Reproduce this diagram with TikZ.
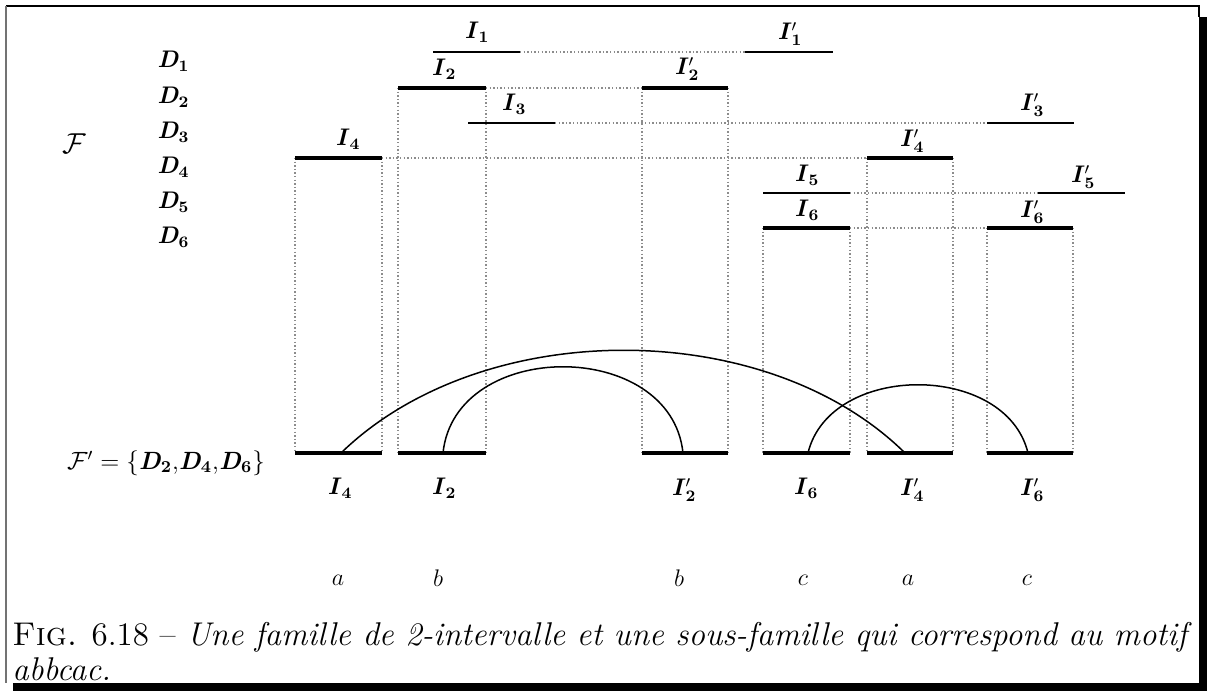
\documentclass[tikz,border=0pt]{standalone}
\newcommand\Bi[1]{\textbf{\textit{#1}}}
\newcommand\Bs[1]{$_{\mathbf{#1}}$}
\newcommand\Bp[1]{$'_{\mathbf{#1}}$}
\begin{document}
\begin{tikzpicture}[x=0.5pt,y=-0.5pt,
  ivthin/.style={line width=0.8pt,line cap=butt},
  ivthick/.style={line width=2.3pt,line cap=butt},
  linkline/.style={black!45,line width=1pt,dash pattern=on 0.7pt off 1.1pt},
  arcline/.style={line width=0.75pt},
  labtext/.style={font=\large,inner sep=0pt},
  captext/.style={font=\Large,inner sep=0pt,anchor=base west}]
\useasboundingbox (0,0) rectangle (1207,691);
% frame
\draw[line width=1pt] (6,6) -- (1199,6) -- (1199,17);
\draw[black!55,line width=1pt] (6,6) -- (6,683);
\fill (1199,17) rectangle (1207,691);
\fill (13,683) rectangle (1207,691);
% interval endpoints
\coordinate (I1a) at (433,52);  \coordinate (I1b) at (520,52);
\coordinate (J1a) at (745,52);  \coordinate (J1b) at (833,52);
\coordinate (I2a) at (398,88);  \coordinate (I2b) at (486,88);
\coordinate (J2a) at (642,88);  \coordinate (J2b) at (728,88);
\coordinate (I3a) at (468,123); \coordinate (I3b) at (555,123);
\coordinate (J3a) at (987,123); \coordinate (J3b) at (1074,123);
\coordinate (I4a) at (295,158); \coordinate (I4b) at (382,158);
\coordinate (J4a) at (867,158); \coordinate (J4b) at (953,158);
\coordinate (I5a) at (763,193); \coordinate (I5b) at (850,193);
\coordinate (J5a) at (1038,193); \coordinate (J5b) at (1125,193);
\coordinate (I6a) at (763,228); \coordinate (I6b) at (850,228);
\coordinate (J6a) at (987,228); \coordinate (J6b) at (1073,228);
% bottom bars
\coordinate (B4a) at (295,453); \coordinate (B4b) at (382,453);
\coordinate (B2a) at (398,453); \coordinate (B2b) at (486,453);
\coordinate (C2a) at (642,453); \coordinate (C2b) at (728,453);
\coordinate (B6a) at (763,453); \coordinate (B6b) at (850,453);
\coordinate (C4a) at (867,453); \coordinate (C4b) at (953,453);
\coordinate (C6a) at (987,453); \coordinate (C6b) at (1073,453);
% dotted links
\draw[linkline] (I1b) -- (J1a);
\draw[linkline] (I2b) -- (J2a);
\draw[linkline] (I3b) -- (J3a);
\draw[linkline] (I4b) -- (J4a);
\draw[linkline] (I5b) -- (J5a);
\draw[linkline] (I6b) -- (J6a);
\foreach \p/\q in {I4a/B4a,I4b/B4b,I2a/B2a,I2b/B2b,J2a/C2a,J2b/C2b,I6a/B6a,I6b/B6b,J4a/C4a,J4b/C4b,J6a/C6a,J6b/C6b}
  \draw[linkline] (\p) -- (\q);
% intervals
\draw[ivthin] (I1a) -- (I1b); \draw[ivthin] (J1a) -- (J1b);
\draw[ivthick] (I2a) -- (I2b); \draw[ivthick] (J2a) -- (J2b);
\draw[ivthin] (I3a) -- (I3b); \draw[ivthin] (J3a) -- (J3b);
\draw[ivthick] (I4a) -- (I4b); \draw[ivthick] (J4a) -- (J4b);
\draw[ivthin] (I5a) -- (I5b); \draw[ivthin] (J5a) -- (J5b);
\draw[ivthick] (I6a) -- (I6b); \draw[ivthick] (J6a) -- (J6b);
\foreach \p/\q in {B4a/B4b,B2a/B2b,C2a/C2b,B6a/B6b,C4a/C4b,C6a/C6b}
  \draw[ivthick] (\p) -- (\q);
% arcs
\coordinate (aS) at (341,453); \coordinate (aE) at (905,453);
\coordinate (bS) at (443,453); \coordinate (bE) at (683,453);
\coordinate (cS) at (808,453); \coordinate (cE) at (1028,453);
\draw[arcline] (aS) .. controls (482,316) and (766,316) .. (aE);
\draw[arcline] (bS) .. controls (455,338) and (671,338) .. (bE);
\draw[arcline] (cS) .. controls (830,362) and (1006,362) .. (cE);
% row labels
\node[labtext,anchor=west] (D1) at (157,61) {\Bi{D}\Bs{1}};
\node[labtext,anchor=west] (D2) at (157,97) {\Bi{D}\Bs{2}};
\node[labtext,anchor=west] (D3) at (157,132) {\Bi{D}\Bs{3}};
\node[labtext,anchor=west] (D4) at (157,167) {\Bi{D}\Bs{4}};
\node[labtext,anchor=west] (D5) at (157,202) {\Bi{D}\Bs{5}};
\node[labtext,anchor=west] (D6) at (157,237) {\Bi{D}\Bs{6}};
\node[labtext] (F) at (74,144) {\scalebox{1.2}{$\mathcal{F}$}};
\node[labtext] (Fp) at (166,463) {\scalebox{1.04}{$\mathcal{F}'=\{$\Bi{D}\Bs{2},\Bi{D}\Bs{4},\Bi{D}\Bs{6}$\}$}};
% interval labels
\node[labtext] (lI1) at (477,32) {\Bi{I}\Bs{1}};
\node[labtext] (lJ1) at (790,34) {\Bi{I}\Bp{1}};
\node[labtext] (lI2) at (444,69) {\Bi{I}\Bs{2}};
\node[labtext] (lJ2) at (687,69) {\Bi{I}\Bp{2}};
\node[labtext] (lI3) at (514,104) {\Bi{I}\Bs{3}};
\node[labtext] (lJ3) at (1032,105) {\Bi{I}\Bp{3}};
\node[labtext] (lI4) at (348,139) {\Bi{I}\Bs{4}};
\node[labtext] (lJ4) at (912,141) {\Bi{I}\Bp{4}};
\node[labtext] (lI5) at (807,175) {\Bi{I}\Bs{5}};
\node[labtext] (lJ5) at (1083,177) {\Bi{I}\Bp{5}};
\node[labtext] (lI6) at (807,210) {\Bi{I}\Bs{6}};
\node[labtext] (lJ6) at (1032,212) {\Bi{I}\Bp{6}};
% bottom labels
\node[labtext] (bI4) at (340,488) {\Bi{I}\Bs{4}};
\node[labtext] (bI2) at (444,488) {\Bi{I}\Bs{2}};
\node[labtext] (bJ2) at (684,490) {\Bi{I}\Bp{2}};
\node[labtext] (bI6) at (806,488) {\Bi{I}\Bs{6}};
\node[labtext] (bJ4) at (912,490) {\Bi{I}\Bp{4}};
\node[labtext] (bJ6) at (1032,490) {\Bi{I}\Bp{6}};
% letters
\node[labtext] (l1) at (338,580) {$a$};
\node[labtext] (l2) at (438,578) {$b$};
\node[labtext] (l3) at (679,578) {$b$};
\node[labtext] (l4) at (803,580) {$c$};
\node[labtext] (l5) at (908,580) {$a$};
\node[labtext] (l6) at (1027,580) {$c$};
% caption
\node[captext] (cap1) at (12,645) {\scalebox{1.142}{\textsc{Fig.} 6.18 -- \textit{Une famille de 2-intervalle et une sous-famille qui correspond au motif}}};
\node[captext] (cap2) at (12,680) {\scalebox{1.142}{\textit{abbcac.}}};
\end{tikzpicture}
\end{document}
